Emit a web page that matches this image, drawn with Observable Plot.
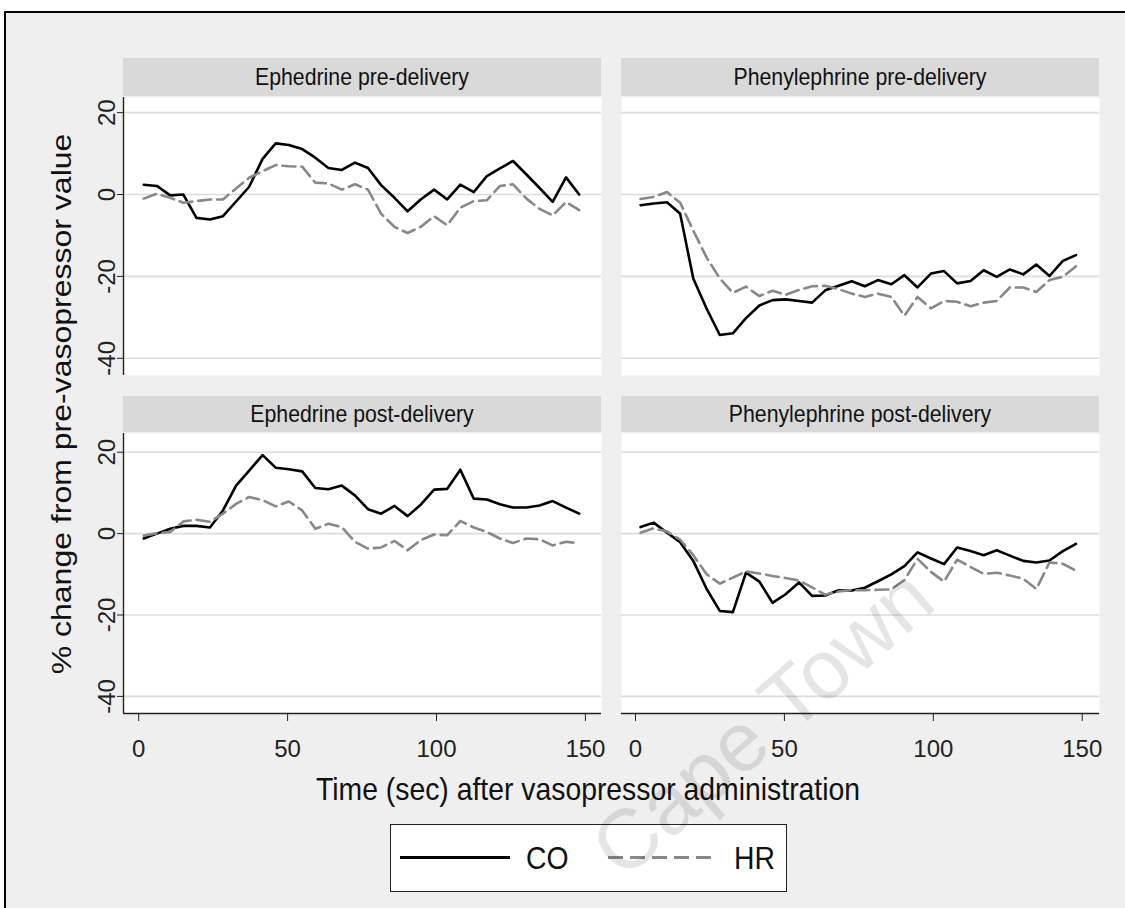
<!DOCTYPE html>
<html>
<head>
<meta charset="utf-8">
<script src="https://cdn.jsdelivr.net/npm/d3@7"></script>
<script src="https://cdn.jsdelivr.net/npm/@observablehq/plot@0.6"></script>
<style>
  html, body { margin: 0; padding: 0; background: #fff; }
  body { font-family: "Liberation Sans", Arial, sans-serif; color: #111; }
  #page { position: relative; width: 1125px; height: 908px; overflow: hidden; }
  #frame { position: absolute; left: 4px; top: 11px; width: 1130px; height: 910px; border: 2px solid #000; background: #efefef; box-sizing: border-box; }
  .strip { position: absolute; background: #d9d9d9; color: #111; }
  .strip span { position: absolute; left: 50%; top: 50%; transform: translate(-50%, -50%) scaleX(0.886); white-space: nowrap; font-size: 24px; }
  .panel { position: absolute; }
  .panel svg { display: block; background: transparent !important; max-width: none !important; }
  #ytitle { position: absolute; left: 62px; top: 404px; transform: translate(-50%, -50%) rotate(-90deg) scaleY(0.886); white-space: nowrap; font-size: 32px; }
  #xtitle { position: absolute; left: 588px; top: 789px; transform: translate(-50%, -50%) scaleX(0.886); white-space: nowrap; font-size: 32px; }
  #legend { position: absolute; left: 390px; top: 824px; width: 397px; height: 68px; background: #fff; border: 1.5px solid #222; box-sizing: border-box; }
  #watermark { position: absolute; left: 762px; top: 722px; transform: translate(-50%, -50%) rotate(-41deg); white-space: nowrap; font-size: 84px; line-height: 1; color: rgba(0,0,0,0.1); pointer-events: none; }
</style>
</head>
<body>
<div id="page">
  <div id="frame"></div>
  <div id="panels"></div>
  <div id="ytitle">% change from pre-vasopressor value</div>
  <div id="xtitle">Time (sec) after vasopressor administration</div>
  <div id="legend"></div>
  <div id="watermark">Cape Town</div>
</div>
<script>
// ---- data ----
const times = [1.7, 6.1, 10.6, 15.0, 19.4, 23.9, 28.3, 32.7, 37.1, 41.6, 46.0, 50.4, 54.9, 59.3, 63.7, 68.2, 72.6, 77.0, 81.4, 85.9, 90.3, 94.7, 99.2, 103.6, 108.0, 112.5, 116.9, 121.3, 125.7, 130.2, 134.6, 139.0, 143.5, 147.9];

const ephPreCO  = [2.4, 2.1, -0.2, 0, -5.7, -6.1, -5.3, -1.7, 1.9, 8.7, 12.5, 12.1, 11.1, 9.0, 6.5, 6.0, 7.8, 6.5, 2.3, -0.8, -4.1, -1.2, 1.2, -1.2, 2.4, 0.6, 4.5, 6.4, 8.2, 4.9, 1.6, -1.8, 4.2, 0];
const ephPreHR  = [-1.0, 0.2, -0.8, -2.0, -1.6, -1.2, -1.2, 1.5, 4.1, 5.7, 7.2, 6.9, 6.8, 2.9, 2.7, 1.2, 2.5, 1.2, -4.7, -7.9, -9.4, -7.9, -5.3, -7.5, -3.2, -1.6, -1.4, 2.1, 2.5, -1.0, -3.5, -5.1, -1.8, -3.8];

const phePreCO  = [-2.6, -2.2, -1.9, -4.7, -20.5, -27.9, -34.3, -33.9, -30.2, -27.1, -25.8, -25.6, -26.0, -26.4, -23.4, -22.3, -21.2, -22.4, -20.9, -21.9, -19.7, -22.7, -19.3, -18.7, -21.7, -21.1, -18.5, -20.1, -18.3, -19.5, -17.1, -19.9, -16.2, -14.8];
const phePreHR  = [-1.1, -0.6, 0.6, -2.0, -8.8, -15.4, -20.5, -24.0, -22.5, -24.8, -23.5, -24.5, -23.3, -22.4, -22.3, -23.1, -24.2, -25.0, -24.2, -25.0, -29.6, -25.0, -27.8, -26.0, -26.2, -27.3, -26.4, -26.0, -22.7, -22.7, -23.8, -20.9, -20.1, -17.5];

const ephPostCO = [-1.2, 0, 1.2, 1.9, 1.9, 1.5, 5.7, 11.8, 15.5, 19.3, 16.2, 15.8, 15.3, 11.2, 10.9, 11.8, 9.4, 6.0, 4.9, 6.8, 4.3, 7.1, 10.8, 11.0, 15.7, 8.6, 8.4, 7.2, 6.4, 6.4, 6.9, 8.0, 6.4, 4.9];
const ephPostHR = [-0.5, 0.1, 0.4, 3.0, 3.4, 2.9, 4.9, 7.3, 9.0, 8.2, 6.7, 7.9, 5.7, 1.2, 2.4, 1.6, -2.0, -3.7, -3.4, -1.8, -4.1, -1.6, -0.2, -0.4, 3.1, 1.5, 0.4, -1.2, -2.3, -1.2, -1.4, -2.9, -2.0, -2.4];

const phePostCO = [1.6, 2.7, 0.2, -2.1, -6.7, -13.6, -19.0, -19.3, -9.6, -11.8, -17.0, -14.9, -12.0, -15.3, -15.2, -13.9, -14.0, -13.3, -11.7, -10.0, -8.0, -4.6, -6.1, -7.5, -3.4, -4.3, -5.3, -4.1, -5.4, -6.7, -7.1, -6.6, -4.3, -2.5];
const phePostHR = [0.2, 1.3, 0.5, -1.5, -5.3, -10.0, -12.3, -10.8, -9.3, -9.8, -10.4, -10.9, -11.5, -13.2, -15.0, -14.2, -13.9, -13.9, -13.8, -13.7, -11.4, -6.2, -9.4, -11.8, -6.4, -8.2, -9.9, -9.6, -10.3, -11.1, -13.6, -7.1, -7.4, -9.1];

const panelTitles = ["Ephedrine pre-delivery", "Phenylephrine pre-delivery", "Ephedrine post-delivery", "Phenylephrine post-delivery"];
const seriesNames = ["CO", "HR"];
const yTicks = [20, 0, -20, -40];
const xTicks = [0, 50, 100, 150];

// ---- layout ----
const cols = [
  {plotLeft: 123, plotW: 478, xDomain: [-5.1, 155.4]},
  {plotLeft: 621, plotW: 478, xDomain: [-4.7, 155.8]}
];
const rows = [
  {plotTop: 97, plotH: 278, yDomain: [-44.2, 23.7], stripTop: 58},
  {plotTop: 433, plotH: 280, yDomain: [-44.2, 24.6], stripTop: 396}
];
const panels = [
  {title: panelTitles[0], co: ephPreCO, hr: ephPreHR, c: 0, r: 0},
  {title: panelTitles[1], co: phePreCO, hr: phePreHR, c: 1, r: 0},
  {title: panelTitles[2], co: ephPostCO, hr: ephPostHR, c: 0, r: 1},
  {title: panelTitles[3], co: phePostCO, hr: phePostHR, c: 1, r: 1}
];

const container = document.getElementById("panels");
const FONT = "'Liberation Sans', Arial, sans-serif";
const SQUEEZE = 0.886;

// narrow the glyphs horizontally on screen (the reference text is condensed)
function condense(svg, selector, sx, sy) {
  svg.querySelectorAll(selector).forEach(t => {
    const x = t.getAttribute("x"), y = t.getAttribute("y");
    let tr = t.getAttribute("transform") || "";
    if (x != null || y != null) {
      tr = `${tr} translate(${x || 0},${y || 0})`;
      t.removeAttribute("x");
      t.removeAttribute("y");
    }
    t.setAttribute("transform", `${tr} scale(${sx},${sy})`);
  });
}

for (const p of panels) {
  const col = cols[p.c], row = rows[p.r];
  const leftAxis = p.c === 0, bottomAxis = p.r === 1;
  const mL = leftAxis ? 45 : 0, mB = bottomAxis ? 50 : 0, mR = 14, mT = 0;

  const coRows = times.map((t, i) => ({t, v: p.co[i], s: seriesNames[0]}));
  const hrRows = times.map((t, i) => ({t, v: p.hr[i], s: seriesNames[1]}));

  const marks = [
    Plot.frame({fill: "#ffffff", stroke: "none"}),
    Plot.ruleY(yTicks, {stroke: "#dcdcdc", strokeWidth: 1.6}),
    Plot.line(coRows, {x: "t", y: "v", stroke: "#000000", strokeWidth: 2.6}),
    Plot.line(hrRows, {x: "t", y: "v", stroke: "#888888", strokeWidth: 2.6, strokeDasharray: "13,6"})
  ];
  if (leftAxis) {
    marks.push(Plot.ruleX([col.xDomain[0]], {stroke: "#222", strokeWidth: 1.4}));
    marks.push(Plot.axisY({ticks: yTicks, tickSize: 6, tickFormat: () => "", label: null, stroke: "#222"}));
    marks.push(Plot.text(yTicks, {y: d => d, text: d => String(d), frameAnchor: "left", dx: -16, rotate: -90, textAnchor: "middle", lineAnchor: "middle", fontSize: 24, fill: "#222", ariaLabel: "ytl"}));
  }
  if (bottomAxis) {
    marks.push(Plot.ruleY([row.yDomain[0]], {stroke: "#222", strokeWidth: 1.4}));
    marks.push(Plot.axisX({ticks: xTicks, tickSize: 8, tickFormat: () => "", label: null, stroke: "#222"}));
    marks.push(Plot.text(xTicks, {x: d => d, text: d => String(d), frameAnchor: "bottom", dy: 26, lineAnchor: "top", textAnchor: "middle", fontSize: 24, fill: "#222", ariaLabel: "xtl"}));
  }

  const chart = Plot.plot({
    width: mL + col.plotW + mR,
    height: mT + row.plotH + mB,
    marginLeft: mL, marginRight: mR, marginTop: mT, marginBottom: mB,
    x: {domain: col.xDomain, axis: null},
    y: {domain: row.yDomain, axis: null},
    style: {fontFamily: FONT, fontSize: "24px", background: "transparent", overflow: "visible", color: "#222"},
    marks
  });
  condense(chart, 'g[aria-label="xtl"] text', SQUEEZE, 1);
  condense(chart, 'g[aria-label="ytl"] text', 1, SQUEEZE);

  const div = document.createElement("div");
  div.className = "panel";
  div.style.left = (col.plotLeft - mL) + "px";
  div.style.top = (row.plotTop - mT) + "px";
  div.appendChild(chart);
  container.appendChild(div);

  const strip = document.createElement("div");
  strip.className = "strip";
  strip.style.left = col.plotLeft + "px";
  strip.style.width = col.plotW + "px";
  strip.style.top = row.stripTop + "px";
  strip.style.height = (row.plotTop - row.stripTop - 1) + "px";
  const span = document.createElement("span");
  span.textContent = p.title;
  strip.appendChild(span);
  container.appendChild(strip);
}

// ---- legend ----
const legend = document.getElementById("legend");
legend.innerHTML = `
<svg width="397" height="68" style="position:absolute;left:-1.5px;top:-1.5px;overflow:visible">
  <line x1="10" x2="120" y1="33.5" y2="33.5" stroke="#000" stroke-width="3"/>
  <text transform="translate(136,45) scale(${SQUEEZE},1)" font-size="32" font-family="${FONT}" fill="#111">${seriesNames[0]}</text>
  <line x1="218" x2="327" y1="33.5" y2="33.5" stroke="#888" stroke-width="3" stroke-dasharray="15,7"/>
  <text transform="translate(344,45) scale(${SQUEEZE},1)" font-size="32" font-family="${FONT}" fill="#111">${seriesNames[1]}</text>
</svg>`;
</script>
</body>
</html>
